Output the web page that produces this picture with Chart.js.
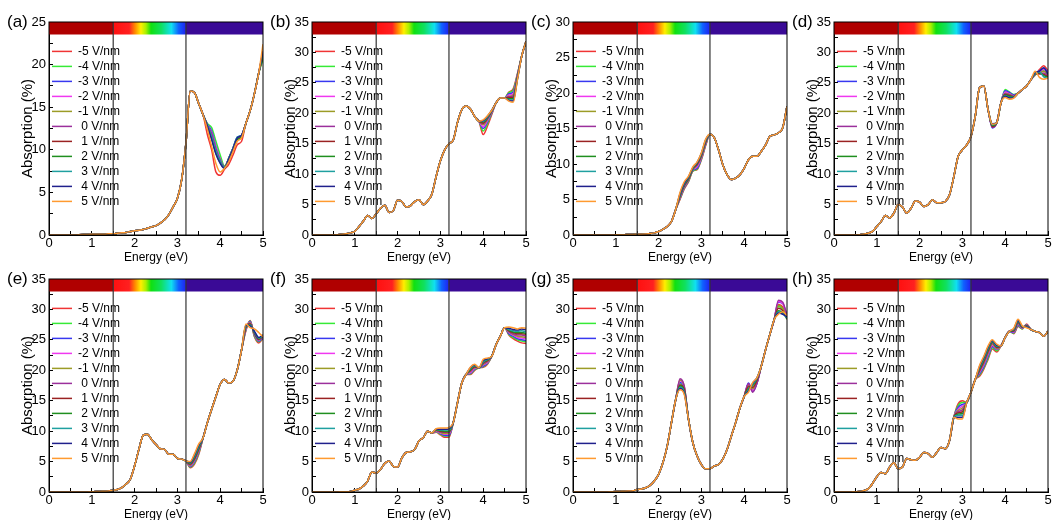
<!DOCTYPE html>
<html>
<head>
<meta charset="utf-8">
<script src="https://cdn.jsdelivr.net/npm/chart.js@4.4.1/dist/chart.umd.min.js"></script>
<style>
  body { margin: 0; background: #fff; width: 1053px; height: 520px; position: relative; overflow: hidden; font-family: 'Liberation Sans', Arial, sans-serif; }
  canvas { position: absolute; }
  .tag { position: absolute; font-size: 17px; line-height: 17px; color: #000; }
</style>
</head>
<body>
<script>
// photon energy grid (eV)
const energy = [0, 0.4, 0.6, 0.8, 0.9, 1.0, 1.1, 1.2, 1.3, 1.4, 1.5, 1.6, 1.7, 1.8, 1.9, 2.0, 2.1, 2.2, 2.3, 2.4,
  2.5, 2.6, 2.7, 2.8, 2.9, 3.0, 3.1, 3.2, 3.3, 3.4, 3.5, 3.6, 3.7, 3.8, 3.9, 4.0, 4.1, 4.2, 4.3, 4.4,
  4.5, 4.6, 4.7, 4.8, 4.9, 5.0];

const fieldLabels = ['-5 V/nm', '-4 V/nm', '-3 V/nm', '-2 V/nm', '-1 V/nm', ' 0 V/nm', ' 1 V/nm', ' 2 V/nm', ' 3 V/nm', ' 4 V/nm', ' 5 V/nm'];
const fieldColors = ['#f03434', '#36ea36', '#3838f0', '#f038f0', '#9c9c26', '#9c309c', '#9a2222', '#1f8f1f', '#1fa0a0', '#20208c', '#ff9a30'];

const panelTags = ['(a)', '(b)', '(c)', '(d)', '(e)', '(f)', '(g)', '(h)'];
const yMaxes = [25, 35, 30, 35, 35, 35, 35, 35];

// visible-light band shown across the top of each panel (eV)
const bandEdges = [0, 1.5, 3.2, 5];
const spectrumStops = [0, 0.22, 0.3, 0.38, 0.45, 0.52, 0.66, 0.8, 0.9, 1];
const spectrumColors = ['#ff1010', '#ff2020', '#ff8a00', '#ffee00', '#a8f000', '#10e010', '#10e060', '#10e0f0', '#1060ff', '#2020f0'];

// shared curve of each panel on the energy grid; the *WinX / *Win arrays hold the
// values of the 11 field strengths (-5 ... 5 V/nm) where the curves separate
const aBase = [0, 0, 0, 0.05, 0.05, 0.1, 0.1, 0.1, 0.1, 0.15, 0.15, 0.2, 0.25, 0.3, 0.4, 0.5, 0.55, 0.65, 0.8, 0.95,
  1.1, 1.4, 1.8, 2.4, 3.3, 4.3, 6.5, 10.8, 16.9, 16.7, 15.4, 14.1, 12.9, 11.5, 9.8, 8.6, 7.9, 8.9, 10.1, 11.3,
  11.6, 13.1, 14.6, 16.6, 19.0, 22.2];
const aWinX = [3.7, 3.8, 3.9, 4.0, 4.1, 4.2, 4.3, 4.4, 4.5, 5.0];
const aWin = [
  [11.8, 13.1, 13.0, 12.9, 12.9, 12.9, 12.8, 12.7, 12.9, 12.8, 12.4],
  [10.0, 12.6, 12.2, 12.0, 11.8, 11.9, 11.5, 11.3, 11.6, 11.2, 10.4],
  [7.4, 11.0, 10.4, 10.3, 10.0, 10.1, 9.8, 9.6, 9.9, 9.5, 8.4],
  [7.0, 9.4, 8.9, 8.9, 8.7, 8.8, 8.6, 8.5, 8.7, 8.4, 7.4],
  [7.7, 8.1, 8.0, 7.9, 7.9, 8.0, 7.9, 7.9, 7.9, 7.8, 7.8],
  [8.3, 9.0, 9.0, 8.9, 9.0, 9.0, 8.9, 8.8, 9.0, 8.9, 8.6],
  [9.4, 10.2, 10.2, 10.1, 10.2, 10.2, 10.0, 10.0, 10.2, 10.1, 9.8],
  [10.6, 11.4, 11.5, 11.3, 11.4, 11.4, 11.2, 11.2, 11.5, 11.4, 11.0],
  [11.0, 11.7, 11.7, 11.6, 11.7, 11.7, 11.5, 11.5, 11.7, 11.7, 11.4],
  [21.0, 20.6, 21.4, 21.5, 21.3, 21.2, 21.0, 21.0, 21.5, 21.6, 22.4]
];

const bBase = [0, 0, 0.05, 0.2, 0.35, 0.6, 1.4, 2.3, 3.2, 2.7, 3.5, 4.4, 4.9, 3.7, 4.0, 5.7, 5.5, 4.6, 4.8, 5.5,
  5.8, 5.0, 5.6, 6.7, 9.6, 12.2, 14.0, 15.0, 15.6, 18.5, 20.6, 21.2, 20.7, 19.5, 18.7, 18.4, 19.2, 20.3, 21.7, 22.5,
  22.5, 22.8, 23.0, 26.1, 29.4, 31.8];
const bWinX = [4.0, 4.1, 4.2, 4.6, 4.7, 4.8];
const bWin = [
  [16.5, 17.1, 17.5, 17.8, 18.1, 18.3, 18.4, 18.6, 18.7, 18.8, 18.9],
  [17.9, 18.3, 18.6, 18.8, 19.0, 19.1, 19.2, 19.3, 19.4, 19.5, 19.6],
  [19.8, 20.0, 20.1, 20.2, 20.3, 20.3, 20.4, 20.4, 20.5, 20.5, 20.5],
  [23.5, 23.4, 23.2, 23.0, 22.8, 22.7, 22.6, 22.4, 22.2, 22.1, 22.0],
  [24.0, 23.8, 23.5, 23.2, 23.0, 22.8, 22.6, 22.4, 22.2, 22.0, 21.8],
  [26.5, 26.4, 26.3, 26.2, 26.1, 26.0, 25.9, 25.8, 25.7, 25.6, 25.5]
];

const cBase = [0, 0, 0, 0, 0, 0.02, 0.03, 0.05, 0.06, 0.08, 0.1, 0.12, 0.15, 0.2, 0.3, 0.5, 0.8, 1.2, 1.9, 3.6,
  5.4, 6.9, 7.8, 9.2, 9.9, 11.1, 13.0, 14.2, 13.7, 12.0, 9.9, 8.5, 7.8, 8.0, 8.5, 9.4, 10.6, 11.1, 11.1, 11.8,
  12.7, 13.9, 14.1, 14.4, 15.1, 18.1];
const cWinX = [2.5, 2.6, 2.7, 2.8, 2.9, 3.0, 3.1];
const cWin = [
  [5.0, 5.1, 5.2, 5.3, 5.4, 5.4, 5.5, 5.6, 5.7, 5.8, 6.0],
  [6.5, 6.6, 6.7, 6.8, 6.9, 6.9, 7.0, 7.1, 7.2, 7.3, 7.5],
  [7.5, 7.6, 7.7, 7.8, 7.8, 7.9, 7.9, 8.0, 8.1, 8.2, 8.3],
  [9.0, 9.0, 9.1, 9.2, 9.2, 9.3, 9.3, 9.4, 9.4, 9.5, 9.6],
  [9.2, 9.3, 9.4, 9.6, 9.8, 9.9, 10.0, 10.1, 10.2, 10.2, 10.3],
  [10.6, 10.7, 10.8, 10.9, 11.0, 11.1, 11.2, 11.3, 11.4, 11.5, 11.6],
  [12.6, 12.7, 12.8, 12.9, 13.0, 13.0, 13.1, 13.2, 13.3, 13.4, 13.5]
];

const dBase = [0, 0, 0.05, 0.3, 0.6, 1.4, 2.2, 3.2, 2.8, 3.6, 5.0, 4.6, 3.6, 4.4, 5.6, 5.4, 4.7, 5.0, 5.8, 5.3,
  5.3, 5.5, 6.6, 9.6, 12.9, 14.0, 14.8, 16.2, 19.5, 24.2, 24.5, 20.6, 17.8, 18.4, 21.7, 23.3, 23.1, 22.8, 23.3, 23.9,
  24.5, 25.5, 26.5, 26.6, 26.9, 26.3];
const dWinX = [3.7, 4.0, 4.1, 4.2, 4.7, 4.8, 4.9, 5.0];
const dWin = [
  [18.0, 18.2, 17.6, 17.8, 17.9, 17.7, 17.8, 18.0, 18.1, 18.3, 18.2],
  [23.6, 23.9, 23.7, 23.5, 23.3, 23.2, 23.1, 23.0, 22.9, 22.8, 22.6],
  [23.2, 23.5, 23.4, 23.2, 23.1, 23.0, 22.9, 22.8, 22.6, 22.5, 22.3],
  [23.0, 23.1, 23.0, 22.9, 22.8, 22.8, 22.7, 22.7, 22.6, 22.6, 22.5],
  [26.3, 26.3, 26.4, 26.4, 26.5, 26.5, 26.5, 26.5, 26.6, 26.7, 26.9],
  [27.2, 26.8, 27.0, 26.8, 26.6, 26.5, 26.5, 26.7, 26.8, 26.9, 25.9],
  [27.8, 27.0, 27.4, 27.2, 26.9, 26.6, 26.4, 26.2, 26.0, 27.5, 25.6],
  [27.0, 26.5, 26.8, 26.6, 26.3, 26.2, 26.0, 25.9, 25.8, 26.4, 25.8]
];

const eBase = [0, 0, 0, 0, 0.02, 0.05, 0.08, 0.1, 0.12, 0.15, 0.3, 0.4, 0.7, 1.3, 2.1, 4.3, 7.0, 9.3, 9.5, 8.6,
  7.8, 7.1, 7.0, 6.2, 6.2, 5.5, 5.4, 5.1, 4.5, 5.4, 7.0, 8.9, 11.4, 13.6, 15.7, 17.7, 18.5, 17.9, 18.2, 20.1,
  23.4, 27.0, 27.8, 25.9, 25.0, 25.6];
const eWinX = [3.3, 3.4, 3.5, 4.6, 4.7, 4.8, 4.9, 5.0];
const eWin = [
  [4.0, 4.1, 4.2, 4.3, 4.4, 4.5, 4.6, 4.7, 4.8, 4.9, 5.0],
  [4.6, 4.8, 5.0, 5.2, 5.3, 5.4, 5.5, 5.7, 5.9, 6.1, 6.3],
  [6.2, 6.4, 6.6, 6.8, 6.9, 7.0, 7.1, 7.3, 7.5, 7.7, 7.9],
  [26.5, 26.6, 26.7, 26.8, 26.9, 27.0, 27.1, 27.2, 27.3, 27.4, 27.6],
  [28.2, 28.1, 28.0, 27.9, 27.8, 27.7, 27.6, 27.5, 27.4, 27.3, 27.0],
  [25.5, 25.6, 25.8, 25.9, 26.0, 26.0, 26.1, 26.2, 26.3, 26.4, 26.8],
  [24.5, 24.7, 24.8, 24.9, 25.0, 25.0, 25.1, 25.2, 25.3, 25.4, 26.2],
  [25.2, 25.3, 25.4, 25.5, 25.6, 25.6, 25.6, 25.7, 25.7, 25.8, 25.5]
];

const fBase = [0, 0, 0.02, 0.05, 0.1, 0.3, 0.5, 1.0, 1.8, 3.3, 3.1, 3.7, 4.7, 5.1, 4.2, 4.1, 5.6, 6.5, 6.6, 7.0,
  8.4, 8.9, 10.0, 9.7, 10.1, 10.0, 9.8, 10.0, 11.4, 14.7, 17.9, 19.3, 20.1, 20.7, 20.4, 21.2, 21.5, 22.3, 24.2, 25.6,
  27.0, 26.7, 26.4, 25.9, 26.1, 26.4];
const fWinX = [2.9, 3.0, 3.1, 3.2, 3.7, 3.8, 4.0, 4.1, 4.6, 4.7, 4.8, 4.9, 5.0];
const fWin = [
  [9.8, 9.9, 10.0, 10.0, 10.1, 10.1, 10.2, 10.2, 10.3, 10.3, 10.4],
  [9.4, 9.5, 9.6, 9.7, 9.8, 9.9, 10.0, 10.1, 10.2, 10.3, 10.5],
  [9.0, 9.2, 9.3, 9.5, 9.6, 9.8, 9.9, 10.0, 10.2, 10.3, 10.5],
  [9.0, 9.2, 9.3, 9.5, 9.7, 9.8, 9.9, 10.0, 10.2, 10.4, 10.6],
  [19.3, 19.4, 19.5, 19.6, 19.8, 19.9, 20.0, 20.1, 20.3, 20.4, 20.5],
  [20.0, 20.1, 20.2, 20.3, 20.4, 20.5, 20.6, 20.7, 20.8, 20.9, 21.0],
  [20.5, 20.6, 20.7, 20.9, 21.0, 21.1, 21.2, 21.3, 21.4, 21.6, 21.8],
  [21.0, 21.1, 21.2, 21.3, 21.4, 21.5, 21.6, 21.7, 21.8, 21.9, 22.0],
  [25.8, 25.9, 26.0, 26.2, 26.3, 26.4, 26.5, 26.6, 26.7, 26.9, 27.1],
  [25.2, 25.4, 25.6, 25.8, 25.9, 26.0, 26.2, 26.3, 26.5, 26.7, 27.0],
  [24.8, 25.0, 25.2, 25.4, 25.6, 25.8, 26.0, 26.2, 26.4, 26.6, 26.8],
  [24.5, 24.8, 25.0, 25.3, 25.5, 25.8, 26.0, 26.2, 26.5, 26.8, 27.0],
  [24.4, 24.7, 24.9, 25.2, 25.4, 25.6, 25.9, 26.1, 26.3, 26.6, 26.9]
];

const gBase = [0, 0, 0, 0.02, 0.05, 0.08, 0.1, 0.12, 0.15, 0.2, 0.4, 0.5, 0.7, 1.1, 1.8, 2.9, 4.8, 7.5, 11.4, 15.2,
  17.2, 16.2, 11.9, 8.1, 5.9, 4.5, 3.8, 3.8, 4.3, 4.5, 5.4, 7.0, 9.2, 11.4, 13.8, 15.7, 17.1, 17.4, 18.5, 20.7,
  23.4, 25.9, 28.3, 30.5, 30.5, 28.9];
const gWinX = [2.5, 2.6, 4.1, 4.2, 4.3, 4.8, 4.9, 5.0];
const gWin = [
  [17.5, 17.8, 18.0, 18.3, 18.4, 18.6, 17.6, 17.4, 17.2, 17.0, 16.8],
  [16.6, 16.8, 17.0, 17.2, 17.3, 17.4, 16.8, 16.6, 16.4, 16.2, 16.0],
  [17.8, 17.6, 17.9, 17.7, 17.5, 17.8, 17.3, 17.0, 16.8, 16.6, 16.4],
  [16.6, 16.8, 16.5, 16.7, 17.0, 16.4, 17.2, 17.5, 17.7, 17.9, 18.0],
  [18.0, 18.1, 17.9, 18.1, 18.3, 17.9, 18.4, 18.6, 18.7, 18.8, 18.8],
  [30.8, 30.5, 31.2, 31.3, 30.7, 31.5, 30.2, 29.8, 29.6, 29.4, 29.2],
  [30.4, 30.0, 31.0, 31.0, 30.2, 31.2, 29.8, 29.5, 29.3, 29.2, 29.6],
  [28.6, 28.4, 28.8, 28.8, 28.6, 29.0, 28.4, 28.5, 28.6, 28.8, 29.0]
];

const hBase = [0, 0.02, 0.1, 0.5, 1.4, 2.5, 3.2, 3.0, 4.1, 4.8, 3.8, 4.1, 5.5, 5.3, 5.2, 5.7, 6.5, 6.3, 5.7, 6.5,
  7.3, 7.1, 8.5, 12.3, 13.4, 13.8, 14.7, 16.4, 18.5, 19.9, 21.3, 22.9, 24.5, 23.7, 24.0, 25.4, 26.4, 26.4, 27.8, 27.0,
  27.3, 26.7, 26.4, 26.2, 25.6, 26.4];
const hWinX = [2.9, 3.0, 3.4, 3.5, 3.6, 3.7, 3.8, 4.2, 4.3, 4.4, 4.5];
const hWin = [
  [14.5, 14.2, 13.9, 13.6, 13.4, 13.2, 13.0, 12.8, 12.6, 12.3, 12.0],
  [15.0, 14.7, 14.4, 14.1, 13.8, 13.5, 13.2, 12.9, 12.6, 12.3, 12.0],
  [19.0, 19.2, 19.4, 19.6, 19.8, 19.9, 20.0, 20.2, 20.4, 20.6, 20.8],
  [20.2, 20.4, 20.6, 20.9, 21.1, 21.3, 21.5, 21.7, 21.9, 22.1, 22.3],
  [21.8, 22.0, 22.3, 22.6, 22.8, 23.0, 23.2, 23.4, 23.6, 23.8, 24.0],
  [23.5, 23.7, 23.9, 24.1, 24.3, 24.5, 24.6, 24.7, 24.8, 24.9, 25.0],
  [23.0, 23.2, 23.4, 23.5, 23.6, 23.7, 23.8, 23.9, 24.0, 24.1, 24.3],
  [26.0, 26.1, 26.2, 26.3, 26.4, 26.4, 26.5, 26.6, 26.7, 26.8, 26.9],
  [27.2, 27.3, 27.4, 27.6, 27.7, 27.8, 27.9, 28.0, 28.1, 28.2, 28.4],
  [26.8, 26.8, 26.9, 26.9, 27.0, 27.0, 27.1, 27.1, 27.2, 27.2, 27.3],
  [27.6, 27.5, 27.5, 27.4, 27.4, 27.3, 27.3, 27.2, 27.2, 27.1, 27.0]
];

const panels = [
  [aBase, aWinX, aWin], [bBase, bWinX, bWin], [cBase, cWinX, cWin], [dBase, dWinX, dWin],
  [eBase, eWinX, eWin], [fBase, fWinX, fWin], [gBase, gWinX, gWin], [hBase, hWinX, hWin]
];

// layout
const colLeft = [49, 312, 573, 834];
const rowTop = [22, 279];
const plotW = 214, plotH = 213;
const axisW = 49, axisH = 30, padR = 10;

Chart.defaults.font.family = "'Liberation Sans', Arial, sans-serif";
Chart.defaults.color = '#000';

const spectrumBar = {
  id: 'spectrumBar',
  afterDatasetsDraw(chart) {
    const { ctx, chartArea: area, scales: { x } } = chart;
    const xs = bandEdges.map(v => x.getPixelForValue(v));
    const h = 12.5;
    ctx.save();
    ctx.fillStyle = '#b00000';
    ctx.fillRect(xs[0], area.top, xs[1] - xs[0], h);
    const g = ctx.createLinearGradient(xs[1], 0, xs[2], 0);
    spectrumStops.forEach((s, i) => g.addColorStop(s, spectrumColors[i]));
    ctx.fillStyle = g;
    ctx.fillRect(xs[1], area.top, xs[2] - xs[1], h);
    ctx.fillStyle = '#3a0a96';
    ctx.fillRect(xs[2], area.top, xs[3] - xs[2], h);
    ctx.strokeStyle = '#333';
    ctx.lineWidth = 1.2;
    [xs[1], xs[2]].forEach(px => {
      ctx.beginPath();
      ctx.moveTo(px, area.top);
      ctx.lineTo(px, area.bottom);
      ctx.stroke();
    });
    ctx.strokeStyle = '#000';
    ctx.lineWidth = 1;
    ctx.strokeRect(area.left, area.top, area.right - area.left, area.bottom - area.top);
    ctx.restore();
  }
};

panels.forEach(([base, winX, win], p) => {
  const col = p % 4, row = Math.floor(p / 4);
  const left = Math.round(colLeft[col] - axisW), top = Math.round(rowTop[row] - 22);

  const canvas = document.createElement('canvas');
  canvas.width = axisW + plotW + padR;
  canvas.height = 22 + plotH + axisH;
  canvas.style.left = left + 'px';
  canvas.style.top = top + 'px';
  document.body.appendChild(canvas);

  const tag = document.createElement('div');
  tag.className = 'tag';
  tag.textContent = panelTags[p];
  tag.style.left = (colLeft[col] - 42) + 'px';
  tag.style.top = (rowTop[row] - 9) + 'px';
  document.body.appendChild(tag);

  const datasets = fieldLabels.map((label, f) => ({
    label,
    data: energy.map((e, i) => {
      const w = winX.indexOf(e);
      return { x: e, y: w >= 0 ? win[w][f] : base[i] };
    }),
    borderColor: fieldColors[f],
    backgroundColor: fieldColors[f],
    borderWidth: 1.5,
    pointRadius: 0,
    cubicInterpolationMode: 'monotone',
    order: fieldLabels.length - f
  }));

  new Chart(canvas.getContext('2d'), {
    type: 'line',
    data: { datasets },
    plugins: [spectrumBar],
    options: {
      responsive: false,
      animation: false,
      layout: { padding: { top: 22, right: padR, left: 0, bottom: 0 } },
      scales: {
        x: {
          type: 'linear', min: 0, max: 5,
          afterFit: s => { s.height = axisH; },
          ticks: {
            stepSize: 0.5, autoSkip: false, maxRotation: 0, padding: 5,
            font: { size: 13 },
            callback: v => Number.isInteger(v) ? v : ''
          },
          grid: { drawOnChartArea: false, tickLength: -4, color: '#000' },
          border: { color: '#000' },
          title: { display: true, text: 'Energy (eV)', font: { size: 12 }, padding: 0 }
        },
        y: {
          min: 0, max: yMaxes[p],
          afterFit: s => { s.width = axisW; },
          ticks: {
            stepSize: 2.5, autoSkip: false, padding: 7,
            font: { size: 13 },
            callback: v => v % 5 === 0 ? v : ''
          },
          grid: { drawOnChartArea: false, tickLength: -4, color: '#000' },
          border: { color: '#000' },
          title: { display: true, text: 'Absorption (%)', font: { size: 15 }, padding: { top: 19, bottom: 0 } }
        }
      },
      plugins: {
        tooltip: { enabled: false },
        legend: {
          position: 'chartArea',
          align: 'start',
          // vertical legend boxes start at the canvas top, so the title pushes the items below the colour bar
          title: { display: true, text: ' ', padding: 14 },
          labels: {
            usePointStyle: true,
            pointStyle: 'line',
            pointStyleWidth: 20,
            padding: 3,
            font: { size: 12 },
            color: '#000',
            sort: (a, b) => a.datasetIndex - b.datasetIndex
          }
        }
      }
    }
  });
});
</script>
</body>
</html>
